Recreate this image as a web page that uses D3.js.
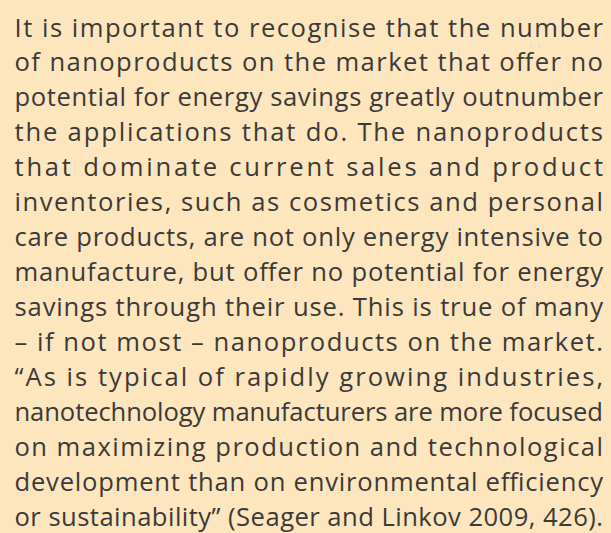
<!DOCTYPE html>
<html>
<head>
<meta charset="utf-8">
<script src="https://cdn.jsdelivr.net/npm/d3@7"></script>
<style>
  html, body { margin: 0; padding: 0; background: #fde6bd; }
  svg { display: block; }
</style>
</head>
<body>
<svg id="chart" width="611" height="533"></svg>
<script>
const lines = [
  "It is important to recognise that the number",
  "of nanoproducts on the market that offer no",
  "potential for energy savings greatly outnumber",
  "the applications that do. The nanoproducts",
  "that dominate current sales and product",
  "inventories, such as cosmetics and personal",
  "care products, are not only energy intensive to",
  "manufacture, but offer no potential for energy",
  "savings through their use. This is true of many",
  "\u2013 if not most \u2013 nanoproducts on the market.",
  "\u201CAs is typical of rapidly growing industries,",
  "nanotechnology manufacturers are more focused",
  "on maximizing production and technological",
  "development than on environmental efficiency",
  "or sustainability\u201D (Seager and Linkov 2009, 426)."
];
const lineIndex = d3.range(lines.length);

const W = 611, H = 533;
const left = 14.5, right = 603;
const svg = d3.select("#chart");
svg.append("rect").attr("width", W).attr("height", H).attr("fill", "#fde6bd");

const y = d3.scaleLinear().domain([0, lines.length - 1]).range([36.5, 526]);

svg.selectAll("text.line")
  .data(lineIndex)
  .join("text")
  .attr("class", "line")
  .attr("x", left)
  .attr("y", i => y(i))
  .attr("font-family", "'Open Sans', sans-serif")
  .attr("font-size", 25.6)
  .attr("fill", "#3a3a3a")
  .attr("textLength", right - left)
  .attr("lengthAdjust", "spacing")
  .text(i => lines[i]);
</script>
</body>
</html>
